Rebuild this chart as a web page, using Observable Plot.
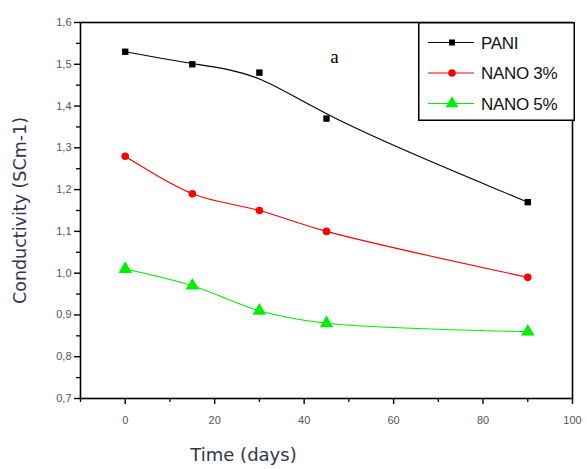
<!DOCTYPE html>
<html><head><meta charset="utf-8">
<script src="https://cdn.jsdelivr.net/npm/d3@7"></script>
<script src="https://cdn.jsdelivr.net/npm/@observablehq/plot@0.6"></script>
<style>
body{margin:0;background:#fff;}
#wrap{position:relative;width:587px;height:469px;}
#legend{position:absolute;left:418px;top:22px;}
</style>
</head><body>
<div id="wrap"></div>
<script>
const days = [0, 15, 30, 45, 90];
const pani = [1.53, 1.50, 1.48, 1.37, 1.17];
const nano3 = [1.28, 1.19, 1.15, 1.10, 0.99];
const nano5 = [1.01, 0.97, 0.91, 0.88, 0.86];
const seriesNames = ["PANI", "NANO 3%", "NANO 5%"];
const seriesColors = ["#000000", "#ff0000", "#00ee00"];
const seriesSymbols = ["square", "circle", "triangle"];
const seriesCurves = ["basis", "catmull-rom", "catmull-rom"];
const yTicks = [0.7, 0.8, 0.9, 1.0, 1.1, 1.2, 1.3, 1.4, 1.5, 1.6];
const yMinor = [0.75, 0.85, 0.95, 1.05, 1.15, 1.25, 1.35, 1.45, 1.55];
const xTicks = [0, 20, 40, 60, 80, 100];
const xMinor = [-10, 10, 30, 50, 70, 90];

const allSeries = [pani, nano3, nano5];
const rows = allSeries.flatMap((vals, i) => vals.map((v, j) => ({day: days[j], value: v, series: seriesNames[i]})));

const fmt = d => d.toFixed(1).replace(".", ",");
const tickColor = "#555";
const font = "Liberation Sans, Arial, sans-serif";

const marks = [];
seriesNames.forEach((name, i) => {
  const data = rows.filter(r => r.series === name);
  marks.push(Plot.line(data, {x: "day", y: "value", stroke: seriesColors[i], strokeWidth: 1.1, curve: seriesCurves[i]}));
  marks.push(Plot.dot(data, {x: "day", y: "value", fill: seriesColors[i], stroke: "none", symbol: () => seriesSymbols[i], r: i === 0 ? 3.6 : (i === 1 ? 3.8 : 5)}));
});

const chart = Plot.plot({
  width: 587, height: 469,
  marginLeft: 80, marginRight: 15, marginTop: 22, marginBottom: 71,
  style: {fontFamily: font, background: "#fff"},
  x: {domain: [-10, 100]},
  y: {domain: [0.7, 1.6]},
  marks: [
    Plot.frame({stroke: "#000", strokeWidth: 1.6}),
    Plot.axisY(yTicks, {tickFormat: fmt, tickSize: 6, tickPadding: 3, fontSize: 11, color: tickColor, stroke: "#000", strokeWidth: 1.4, label: null}),
    Plot.axisY(yMinor, {tickSize: 4, text: null, label: null, stroke: "#000", strokeWidth: 1.3}),
    Plot.axisX(xTicks, {tickSize: 6, tickPadding: 12, fontSize: 11, color: tickColor, stroke: "#000", strokeWidth: 1.4, label: null}),
    Plot.axisX(xMinor, {tickSize: 4, text: null, label: null, stroke: "#000", strokeWidth: 1.3}),
    ...marks,
    Plot.text(["a"], {frameAnchor: "top", dx: 8, dy: 27, fontFamily: "Liberation Serif, Times New Roman, serif", fontSize: 19, fill: "#000"}),
    Plot.text(["Conductivity (SCm-1)"], {frameAnchor: "left", dx: -60, dy: 0, rotate: -90, textAnchor: "middle", fontFamily: "DejaVu Sans, sans-serif", fontSize: 17.5, fill: "#34344a"}),
    Plot.text(["Time (days)"], {frameAnchor: "bottom-left", dx: 163, dy: 62, textAnchor: "middle", fontFamily: "DejaVu Sans, sans-serif", fontSize: 18, fill: "#34344a"})
  ]
});
document.getElementById("wrap").appendChild(chart);

// legend
const lw = 157, lh = 99;
const lg = d3.create("svg").attr("id", "legend").attr("width", lw).attr("height", lh);
lg.append("rect").attr("x", 0.75).attr("y", 0.75).attr("width", lw - 1.5).attr("height", lh - 1.5).attr("fill", "#fff").attr("stroke", "#000").attr("stroke-width", 1.5);
seriesNames.forEach((name, i) => {
  const cy = 20.5 + i * 30.5;
  lg.append("line").attr("x1", 10).attr("x2", 56).attr("y1", cy).attr("y2", cy).attr("stroke", seriesColors[i]).attr("stroke-width", 1.1);
  const sym = d3.symbol().type(i === 0 ? d3.symbolSquare : (i === 1 ? d3.symbolCircle : d3.symbolTriangle)).size(i === 0 ? 36 : (i === 1 ? 45 : 70));
  lg.append("path").attr("d", sym()).attr("transform", `translate(34,${cy})`).attr("fill", seriesColors[i]);
  lg.append("text").attr("x", 63).attr("y", cy + 6).attr("font-family", font).attr("font-size", 17).attr("letter-spacing", "-0.3").attr("fill", "#111").text(name);
});
document.getElementById("wrap").appendChild(lg.node());
</script>
</body></html>
